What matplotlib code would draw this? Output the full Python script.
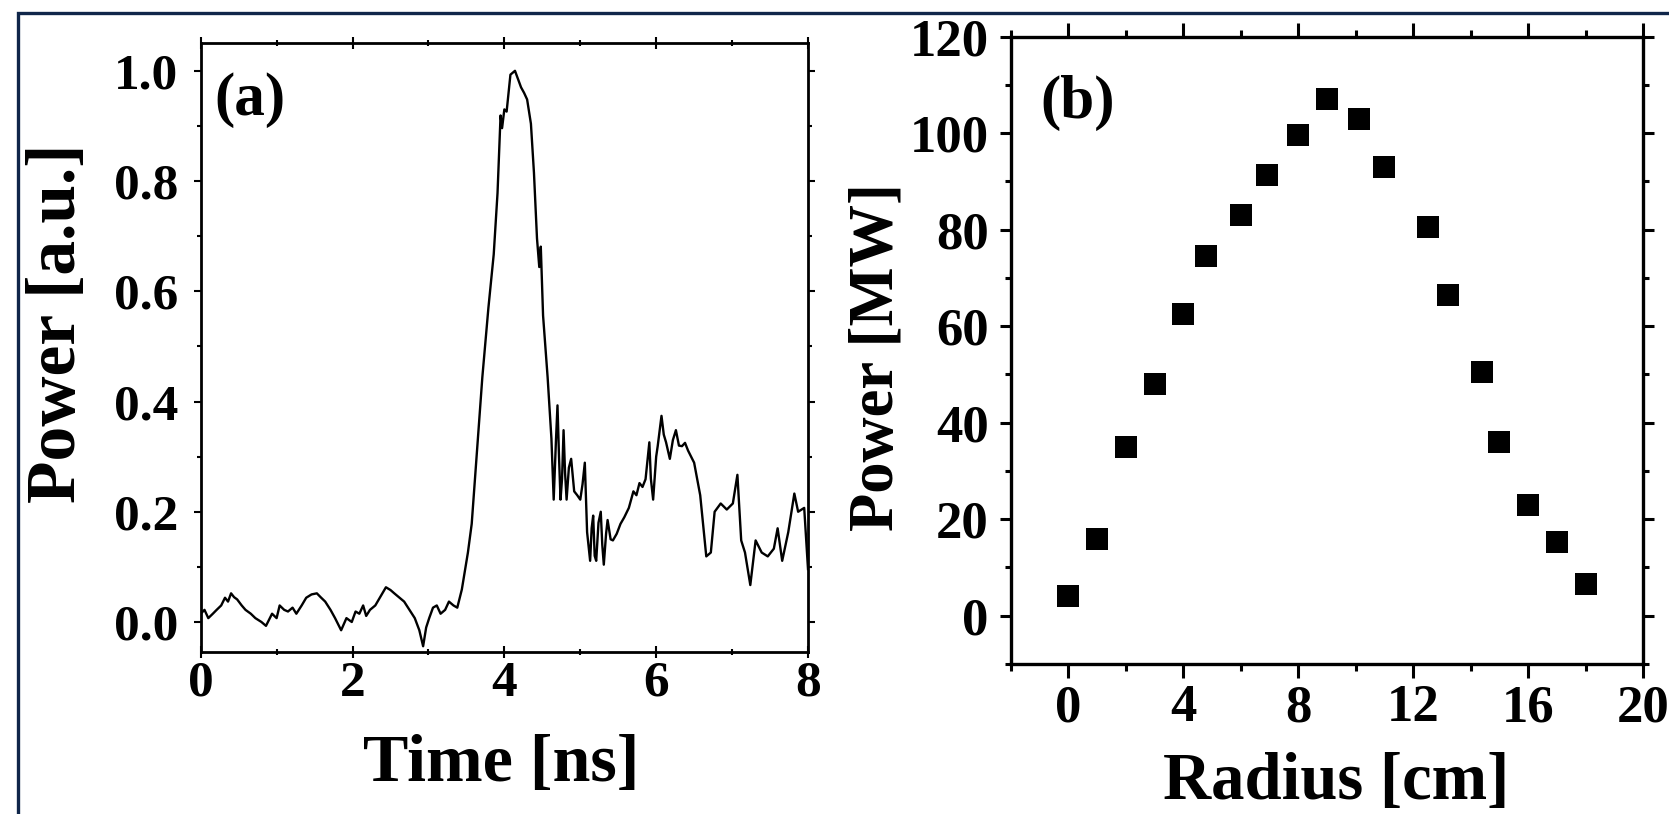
import matplotlib
matplotlib.use("Agg")
import matplotlib.pyplot as plt
from matplotlib.lines import Line2D
from matplotlib.ticker import MultipleLocator

# ---- data: panel (a) pulse trace ----
time_ns = [0.00, 0.05, 0.10, 0.16, 0.21, 0.27, 0.32, 0.36, 0.40, 0.44, 0.48, 0.54, 0.59,
           0.66, 0.72, 0.80, 0.86, 0.94, 1.00, 1.04, 1.10, 1.15, 1.21, 1.26, 1.33, 1.39,
           1.46, 1.53, 1.58, 1.64, 1.71, 1.77, 1.85, 1.92, 1.99, 2.04, 2.09, 2.14, 2.18,
           2.23, 2.30, 2.36, 2.44, 2.50, 2.55, 2.62, 2.68, 2.75, 2.82, 2.88, 2.93, 2.97,
           3.01, 3.06, 3.11, 3.16, 3.22, 3.27, 3.33, 3.38, 3.44, 3.52, 3.57, 3.62, 3.71,
           3.79, 3.86, 3.91, 3.95, 3.97, 4.00, 4.03, 4.08, 4.14, 4.18, 4.22, 4.26, 4.30,
           4.35, 4.39, 4.43, 4.46, 4.48, 4.51, 4.57, 4.62, 4.65, 4.68, 4.70, 4.72, 4.74,
           4.76, 4.78, 4.80, 4.82, 4.85, 4.88, 4.92, 4.96, 5.00, 5.03, 5.06, 5.09, 5.13,
           5.15, 5.17, 5.19, 5.21, 5.24, 5.27, 5.29, 5.31, 5.34, 5.36, 5.40, 5.43, 5.48,
           5.53, 5.58, 5.64, 5.70, 5.74, 5.78, 5.82, 5.86, 5.91, 5.93, 5.96, 6.00, 6.02,
           6.07, 6.10, 6.13, 6.18, 6.22, 6.26, 6.30, 6.34, 6.38, 6.42, 6.46, 6.50, 6.58,
           6.64, 6.66, 6.72, 6.77, 6.85, 6.93, 7.01, 7.07, 7.12, 7.17, 7.24, 7.31, 7.39,
           7.47, 7.55, 7.60, 7.66, 7.74, 7.82, 7.87, 7.95, 8.00]
power_au = [0.015, 0.022, 0.007, 0.015, 0.022, 0.030, 0.044, 0.037, 0.052, 0.045, 0.041,
            0.030, 0.022, 0.015, 0.007, 0.000, -0.007, 0.015, 0.007, 0.030, 0.022, 0.019,
            0.026, 0.015, 0.030, 0.044, 0.050, 0.052, 0.045, 0.037, 0.022, 0.007, -0.015,
            0.007, 0.000, 0.019, 0.015, 0.030, 0.011, 0.022, 0.030, 0.044, 0.063, 0.058,
            0.052, 0.044, 0.037, 0.022, 0.007, -0.015, -0.044, -0.010, 0.007, 0.026, 0.030,
            0.015, 0.022, 0.037, 0.030, 0.026, 0.059, 0.126, 0.178, 0.274, 0.444, 0.570,
            0.667, 0.778, 0.919, 0.896, 0.930, 0.926, 0.993, 1.000, 0.985, 0.970, 0.960,
            0.948, 0.904, 0.815, 0.696, 0.644, 0.681, 0.556, 0.444, 0.333, 0.222, 0.330,
            0.393, 0.300, 0.222, 0.260, 0.348, 0.270, 0.222, 0.280, 0.296, 0.237, 0.230,
            0.222, 0.250, 0.289, 0.163, 0.111, 0.170, 0.193, 0.120, 0.111, 0.180, 0.200,
            0.140, 0.104, 0.160, 0.185, 0.150, 0.148, 0.160, 0.178, 0.190, 0.207, 0.237,
            0.230, 0.252, 0.245, 0.259, 0.326, 0.260, 0.222, 0.300, 0.319, 0.374, 0.340,
            0.326, 0.296, 0.330, 0.348, 0.320, 0.319, 0.325, 0.311, 0.300, 0.289, 0.230,
            0.148, 0.119, 0.126, 0.200, 0.215, 0.204, 0.215, 0.267, 0.148, 0.126, 0.067,
            0.148, 0.126, 0.119, 0.133, 0.170, 0.111, 0.163, 0.233, 0.200, 0.207, 0.096]

# ---- data: panel (b) radial power profile ----
radius_cm = [0, 1, 2, 3, 4, 4.8, 6, 6.9, 8, 9, 10.1, 11, 12.5, 13.2, 14.4, 15, 16, 17, 18]
power_mw = [4, 16, 35, 48, 62.5, 74.5, 83, 91.3, 99.6, 107, 103, 93, 80.5, 66.5, 50.5,
            36, 23, 15.3, 6.5]

a_xticks = [0, 2, 4, 6, 8]
a_yticks = [0.0, 0.2, 0.4, 0.6, 0.8, 1.0]
b_xticks = [0, 4, 8, 12, 16, 20]
b_yticks = [0, 20, 40, 60, 80, 100, 120]

plt.rcParams['font.family'] = ['Liberation Serif', 'DejaVu Serif']
plt.rcParams['font.weight'] = 'bold'

W, H = 1669, 814
fig = plt.figure(figsize=(W / 100, H / 100), dpi=100)
fig.patch.set_facecolor('white')

def fx(px):
    return px / W

def fy(py):
    return 1 - py / H

# ---- panel (a) ----
axa = fig.add_axes([fx(200.7), fy(652.3), (808 - 200.7) / W, (652.3 - 42.7) / H])
axa.plot(time_ns, power_au, color='black', lw=1.7)
axa.set_xlim(0, 8)
axa.set_ylim(-0.055, 1.051)
axa.set_xticks(a_xticks)
axa.set_xticklabels([str(v) for v in a_xticks])
axa.set_yticks(a_yticks)
axa.set_yticklabels(['%.1f' % v for v in a_yticks])
axa.xaxis.set_minor_locator(MultipleLocator(1))
axa.yaxis.set_minor_locator(MultipleLocator(0.1))
for s in axa.spines.values():
    s.set_linewidth(2.0)
axa.tick_params(axis='both', which='both', top=True, right=True, width=1.5)
axa.tick_params(axis='x', which='major', direction='inout', length=8, pad=2, labelsize=37)
axa.tick_params(axis='x', which='minor', direction='inout', length=5)
axa.tick_params(axis='y', which='major', direction='out', length=5, pad=11, labelsize=37)
axa.tick_params(axis='y', which='minor', direction='out', length=3)
axa.set_xlabel('Time [ns]', fontsize=49, fontweight='bold', va='baseline')
axa.xaxis.set_label_coords(0.494, -0.211)
axa.set_ylabel('Power [a.u.]', fontsize=50, fontweight='bold', va='baseline')
axa.yaxis.set_label_coords(-0.207, 0.54)
axa.text(0.022, 0.906, '(a)', transform=axa.transAxes, fontsize=44,
         fontweight='bold', ha='left', va='center')

# ---- panel (b) ----
axb = fig.add_axes([fx(1011), fy(664), (1643 - 1011) / W, (664 - 36.7) / H])
axb.plot(radius_cm, power_mw, linestyle='none', marker='s', markersize=16,
         color='black', markeredgewidth=0)
axb.set_xlim(-2, 20)
axb.set_ylim(-10, 120)
axb.set_xticks(b_xticks)
axb.set_xticklabels([str(v) for v in b_xticks])
axb.set_yticks(b_yticks)
axb.set_yticklabels([str(v) for v in b_yticks])
axb.xaxis.set_minor_locator(MultipleLocator(2))
axb.yaxis.set_minor_locator(MultipleLocator(10))
for s in axb.spines.values():
    s.set_linewidth(2.4)
axb.tick_params(axis='both', which='both', top=True, right=True, width=2.2)
axb.tick_params(axis='x', which='major', direction='out', length=10, pad=4.5, labelsize=38)
axb.tick_params(axis='x', which='minor', direction='out', length=5)
axb.tick_params(axis='y', which='major', direction='out', length=8, pad=8, labelsize=38)
axb.tick_params(axis='y', which='minor', direction='out', length=4)
axb.set_xlabel('Radius [cm]', fontsize=48, fontweight='bold', va='baseline')
axb.xaxis.set_label_coords(0.515, -0.215)
axb.set_ylabel('Power [MW]', fontsize=45, fontweight='bold', va='baseline')
axb.yaxis.set_label_coords(-0.1875, 0.49)
axb.text(0.046, 0.895, '(b)', transform=axb.transAxes, fontsize=44,
         fontweight='bold', ha='left', va='center')

# ---- outer navy frame ----
frame = Line2D([fx(18), fx(18), fx(1700)], [fy(900), fy(13), fy(13)],
               transform=fig.transFigure, color='#10264a', lw=2.4,
               solid_joinstyle='miter')
fig.add_artist(frame)

fig.savefig('out.png', dpi=100)
